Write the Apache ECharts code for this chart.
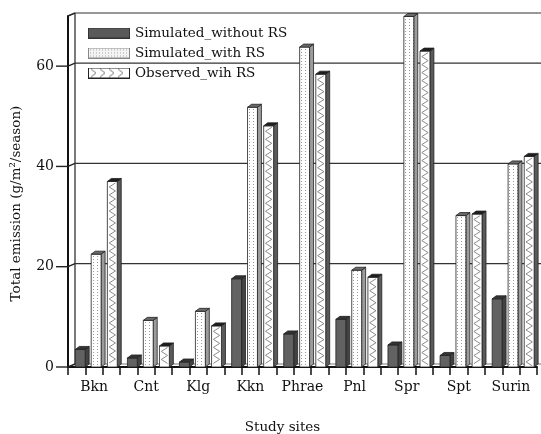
<!DOCTYPE html>
<html><head><meta charset="utf-8">
<script src="https://cdn.jsdelivr.net/npm/echarts@6/dist/echarts.min.js"></script>
<style>html,body{margin:0;padding:0;background:#fff}#c{width:541px;height:434px}</style>
</head><body><div id="c"></div>
<script>
const categories = ['Bkn','Cnt','Klg','Kkn','Phrae','Pnl','Spr','Spt','Surin'];
const simWithout = [3.5, 1.8, 1.0, 17.6, 6.6, 9.5, 4.4, 2.3, 13.6];
const simWith = [22.5, 9.3, 11.1, 51.8, 63.8, 19.3, 69.9, 30.2, 40.5];
const observed = [37.0, 4.2, 8.2, 48.1, 58.4, 17.9, 63.0, 30.5, 42.0];
const frameValues = [0, 20, 40, 60, 70];
const seriesNames = ['Simulated_without RS', 'Simulated_with RS', 'Observed_wih RS'];

const FONT = 'DejaVu Serif';
const DX = 7, DY = 3;      // back wall depth
const BD = 4, BH = 3;      // bar depth

function dotCanvas(){
  const c = document.createElement('canvas'); c.width = 4; c.height = 3;
  const g = c.getContext('2d'); g.fillStyle = '#fff'; g.fillRect(0,0,4,3);
  g.fillStyle = '#9a9a9a'; g.fillRect(1,1,1,1);
  return c;
}
const dotPattern = {image: dotCanvas(), repeat: 'repeat'};

function legendIcon(kind){
  const c = document.createElement('canvas'); c.width = 42; c.height = 11;
  const g = c.getContext('2d');
  g.fillStyle = '#fff'; g.fillRect(0,0,42,11);
  if (kind === 0) {
    g.fillStyle = '#5a5a5a'; g.fillRect(0.5,0.5,41,10);
    g.strokeStyle = '#333'; g.lineWidth = 1; g.strokeRect(0.5,0.5,41,10);
  } else if (kind === 1) {
    g.fillStyle = '#f4f4f4'; g.fillRect(0.5,0.5,41,10);
    g.fillStyle = '#a8a8a8';
    for (let x = 2; x < 41; x += 3) for (let y = 2; y < 10; y += 3) g.fillRect(x,y,1,1);
    g.strokeStyle = '#888'; g.lineWidth = 1; g.strokeRect(0.5,0.5,41,10);
  } else {
    g.strokeStyle = '#777'; g.lineWidth = 1;
    g.beginPath();
    for (let x = 3; x < 38; x += 9) { g.moveTo(x,1.5); g.lineTo(x+5,5.5); g.lineTo(x,9.5); }
    g.stroke();
    g.strokeStyle = '#222'; g.lineWidth = 1; g.strokeRect(0.5,0.5,41,10);
  }
  return 'image://' + c.toDataURL();
}

const offsets = [0.14, 0.445, 0.755];
const faceStyles = [
  {front: '#626262', side: '#424242', top: '#343434'},
  {front: dotPattern, side: '#9c9c9c', top: '#6a6a6a'},
  {front: '#ffffff', side: '#5a5a5a', top: '#1e1e1e'}
];

function barRender(k){
  return function(params, api){
    const i = api.value(0), v = api.value(1);
    const base = api.coord([i, 0]);
    const topP = api.coord([i, v]);
    const bw = api.size([1, 0])[0];
    const x0 = base[0] - bw/2 + offsets[k]*bw;
    const w = 0.19*bw;
    const y0 = base[1], y1 = topP[1];
    const st = faceStyles[k];
    const stroke = '#222';
    const children = [
      {type:'polygon', shape:{points:[[x0+w,y1],[x0+w+BD,y1-BH],[x0+w+BD,y0-BH],[x0+w,y0]]},
       style:{fill:st.side, stroke:stroke, lineWidth:0.8}},
      {type:'rect', shape:{x:x0, y:y1, width:w, height:y0-y1},
       style:{fill:st.front, stroke:stroke, lineWidth:0.8}},
      {type:'polygon', shape:{points:[[x0,y1],[x0+BD,y1-BH],[x0+w+BD,y1-BH],[x0+w,y1]]},
       style:{fill:st.top, stroke:stroke, lineWidth:0.8}}
    ];
    if (k === 2) {
      const pts = [];
      let left = false;
      for (let y = y1 + 1.5; y < y0 - 0.5; y += 4) {
        pts.push([left ? x0 + 1.8 : x0 + w - 1.8, y]);
        left = !left;
      }
      if (pts.length > 1) children.push({type:'polyline', shape:{points:pts}, style:{stroke:'#8c8c8c', lineWidth:1, fill:null}});
    }
    return {type:'group', children};
  };
}

function frameRender(params, api){
  const v = api.value(1);
  const cs = params.coordSys;
  const left = cs.x, right = cs.x + cs.width;
  const y = api.coord([0, v])[1];
  const children = [];
  const ls = {stroke:'#222', lineWidth:1.4};
  children.push({type:'line', shape:{x1:left, y1:y, x2:left+DX, y2:y-DY}, style:ls});
  if (v !== 70) children.push({type:'line', shape:{x1:left-12, y1:y, x2:left, y2:y}, style:ls});
  if (v > 0) children.push({type:'line', shape:{x1:left+DX, y1:y-DY, x2:right+DX, y2:y-DY}, style:{stroke:'#333', lineWidth:1.2}});
  if (v === 0) {
    const yt = api.coord([0, 70])[1];
    children.push({type:'line', shape:{x1:left+DX, y1:y-DY, x2:left+DX, y2:yt-DY}, style:{stroke:'#222', lineWidth:1.2}});
    children.push({type:'line', shape:{x1:left+DX, y1:y-DY, x2:right+DX, y2:y-DY}, style:{stroke:'#555', lineWidth:0.8}});
  }
  return {type:'group', children};
}

const chart = echarts.init(document.getElementById('c'));
const series = [{
  type:'custom', name:'frame', silent:true, z:1, renderItem:frameRender,
  data: frameValues.map(v => [0, v])
}];
[simWithout, simWith, observed].forEach((arr, k) => {
  series.push({
    type:'custom', name:seriesNames[k], z:3, renderItem:barRender(k),
    itemStyle:{color: k === 0 ? '#626262' : '#ddd'},
    data: arr.map((v, i) => [i, v])
  });
});

chart.setOption({
  animation:false,
  backgroundColor:'#fff',
  textStyle:{fontFamily:FONT},
  grid:{left:68, right:4, top:16, bottom:67, outerBoundsMode:'none', containLabel:false},
  legend:{
    orient:'vertical', left:83, top:21, itemWidth:42, itemHeight:11, itemGap:6,
    textStyle:{fontFamily:FONT, fontSize:13.5, color:'#111'},
    data: seriesNames.map((n, k) => ({name:n, icon:legendIcon(k)}))
  },
  xAxis:[{
    type:'category', data:categories,
    axisLine:{lineStyle:{color:'#111', width:2}},
    axisTick:{show:false},
    axisLabel:{fontFamily:FONT, fontSize:14, color:'#111', margin:13, interval:0},
    name:'Study sites', nameLocation:'middle', nameGap:53,
    nameTextStyle:{fontFamily:FONT, fontSize:13.5, color:'#111', padding:[0,40,0,0]}
  },{
    type:'value', min:0, max:27, interval:1, position:'bottom',
    axisLine:{show:false}, axisLabel:{show:false}, splitLine:{show:false},
    axisTick:{show:true, length:8, lineStyle:{color:'#111', width:1.5}}
  }],
  yAxis:{
    type:'value', min:0, max:70, interval:20,
    axisLine:{show:true, lineStyle:{color:'#111', width:2}},
    axisTick:{show:false},
    splitLine:{show:false},
    axisLabel:{fontFamily:FONT, fontSize:14, color:'#111', margin:14, showMaxLabel:false},
    name:'Total emission (g/m²/season)', nameLocation:'middle', nameGap:45, nameRotate:90,
    nameTextStyle:{fontFamily:FONT, fontSize:13.5, color:'#111', padding:[0,24,0,0]}
  },
  series
});
</script></body></html>
